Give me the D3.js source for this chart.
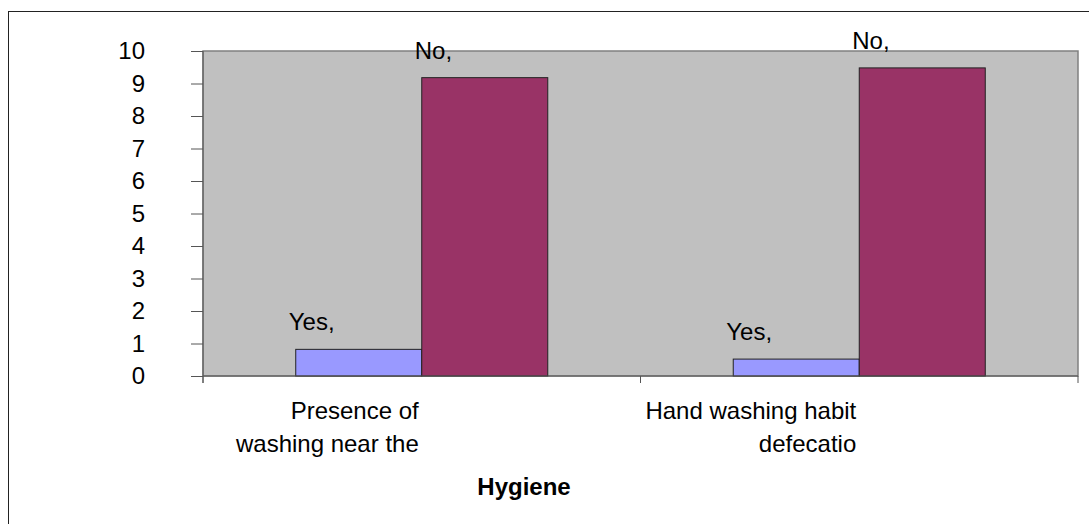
<!DOCTYPE html>
<html>
<head>
<meta charset="utf-8">
<script src="https://cdn.jsdelivr.net/npm/d3@7"></script>
<style>
  body { margin: 0; background: #fff; }
  text { font-family: "Liberation Sans", Arial, sans-serif; }
</style>
</head>
<body>
<svg width="1089" height="524"></svg>
<script>
// dados do grafico
const categorias = ["Presence of hand washing near the toilet", "Hand washing habit after defecation"];
const rotulosCategorias = [["Presence of", "washing near the"], ["Hand washing habit", "defecatio"]];
const series = ["Yes", "No"];
const valoresYes = [0.82, 0.52];
const valoresNo = [9.18, 9.48];
const ticksY = [0, 1, 2, 3, 4, 5, 6, 7, 8, 9, 10];
const cores = ["#9999FF", "#993366"];
const tituloX = "Hygiene";

const svg = d3.select("svg");

// borda externa
svg.append("rect")
  .attr("x", 8.5).attr("y", 11.5)
  .attr("width", 1100).attr("height", 540)
  .attr("fill", "none").attr("stroke", "#222").attr("stroke-width", 1);

const plot = { left: 203, right: 1078, top: 51, bottom: 376 };

const x0 = d3.scaleBand().domain(categorias).range([plot.left, plot.right]).padding(0);
const x1 = d3.scaleBand().domain(series).range([0, x0.bandwidth()]).paddingInner(0).paddingOuter(0.736);
const y = d3.scaleLinear().domain([0, 10]).range([plot.bottom, plot.top]);
const cor = d3.scaleOrdinal().domain(series).range(cores);

// fundo da area do grafico
svg.append("rect")
  .attr("x", plot.left).attr("y", plot.top)
  .attr("width", plot.right - plot.left).attr("height", plot.bottom - plot.top)
  .attr("fill", "#C0C0C0").attr("stroke", "#808080").attr("stroke-width", 1.5);

// barras
const dados = [];
categorias.forEach((c, i) => {
  dados.push({ cat: c, serie: "Yes", valor: valoresYes[i] });
  dados.push({ cat: c, serie: "No", valor: valoresNo[i] });
});

svg.selectAll("rect.barra")
  .data(dados)
  .enter()
  .append("rect")
  .attr("class", "barra")
  .attr("x", d => x0(d.cat) + x1(d.serie))
  .attr("y", d => y(d.valor))
  .attr("width", x1.bandwidth())
  .attr("height", d => y(0) - y(d.valor))
  .attr("fill", d => cor(d.serie))
  .attr("stroke", "#222")
  .attr("stroke-width", 1);

// rotulos das barras
svg.selectAll("text.rotulo")
  .data(dados)
  .enter()
  .append("text")
  .attr("class", "rotulo")
  .attr("x", d => x0(d.cat) + x1(d.serie) + x1.bandwidth() / 2 - 70)
  .attr("y", d => y(d.valor) - 19)
  .attr("font-size", 24)
  .attr("fill", "#000")
  .text(d => d.serie + ",");

// eixo Y
const eixoY = svg.append("g")
  .attr("transform", `translate(${plot.left},0)`)
  .call(d3.axisLeft(y).tickValues(ticksY).tickSize(12).tickPadding(46).tickSizeOuter(0));
eixoY.select(".domain").attr("stroke", "#555").attr("d", `M0,${plot.top}V${plot.bottom + 7}`);
eixoY.selectAll(".tick line").attr("stroke", "#555");
eixoY.selectAll(".tick text")
  .attr("font-size", 24)
  .attr("fill", "#000")
  .style("font-family", '"Liberation Sans", Arial, sans-serif');

// eixo X
svg.append("line")
  .attr("x1", plot.left).attr("x2", plot.right)
  .attr("y1", plot.bottom).attr("y2", plot.bottom)
  .attr("stroke", "#555");

const bordas = categorias.map(c => x0(c)).concat([x0.range()[1]]);
svg.selectAll("line.tickx")
  .data(bordas)
  .enter()
  .append("line")
  .attr("class", "tickx")
  .attr("x1", d => d).attr("x2", d => d)
  .attr("y1", plot.bottom).attr("y2", plot.bottom + 7)
  .attr("stroke", "#555");

// rotulos das categorias
categorias.forEach((c, i) => {
  const t = svg.append("text")
    .attr("text-anchor", "end")
    .attr("font-size", 24)
    .attr("fill", "#000");
  rotulosCategorias[i].forEach((linha, j) => {
    t.append("tspan")
      .attr("x", x0(c) + x0.bandwidth() / 2 - 3)
      .attr("y", 419 + j * 33)
      .text(linha);
  });
});

// titulo do eixo X
svg.append("text")
  .attr("x", 524)
  .attr("y", 495)
  .attr("text-anchor", "middle")
  .attr("font-size", 24)
  .attr("font-weight", "bold")
  .text(tituloX);
</script>
</body>
</html>
